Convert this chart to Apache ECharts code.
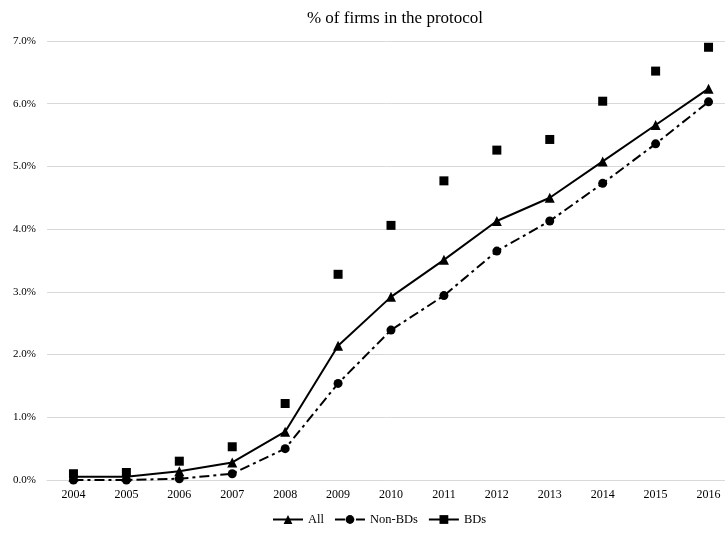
<!DOCTYPE html>
<html>
<head>
<meta charset="utf-8">
<script src="https://cdn.jsdelivr.net/npm/echarts@6/dist/echarts.min.js"></script>
<style>
  html, body { margin: 0; padding: 0; background: #fff; }
  #chart { width: 725px; height: 533px; }
</style>
</head>
<body>
<div id="chart"></div>
<script>
// years on the x axis
var years = ['2004', '2005', '2006', '2007', '2008', '2009', '2010',
             '2011', '2012', '2013', '2014', '2015', '2016'];
// % of firms in the protocol
var allFirms = [0.05, 0.05, 0.14, 0.28, 0.77, 2.14, 2.92, 3.51, 4.13, 4.50, 5.08, 5.66, 6.24];
var nonBDs   = [0.00, 0.00, 0.02, 0.10, 0.50, 1.54, 2.39, 2.94, 3.65, 4.13, 4.73, 5.36, 6.03];
var BDs      = [0.10, 0.12, 0.30, 0.53, 1.22, 3.28, 4.06, 4.77, 5.26, 5.43, 6.04, 6.52, 6.90];

var serif = '"Liberation Serif", "Times New Roman", serif';

var myChart = echarts.init(document.getElementById('chart'));
var option = {
  animation: false,
  title: {
    text: '% of firms in the protocol',
    left: 390,
    top: 5,
    textAlign: 'center',
    textStyle: { fontFamily: serif, fontSize: 17, fontWeight: 'normal', color: '#000' }
  },
  legend: {
    bottom: 7,
    left: 272,
    padding: 0,
    itemWidth: 30,
    itemHeight: 11,
    itemGap: 10,
    textStyle: { fontFamily: serif, fontSize: 12.5, color: '#000' },
    data: [
      { name: 'All' },
      { name: 'Non-BDs' },
      { name: 'BDs', lineStyle: { opacity: 1, width: 2, color: '#000', type: 'solid' } }
    ]
  },
  // plot runs a little past the right edge, like the cropped original
  grid: { left: 47, width: 688, top: 41, bottom: 53, outerBoundsMode: 'none' },
  xAxis: {
    type: 'category',
    data: years,
    boundaryGap: true,
    axisLine: { lineStyle: { color: '#d9d9d9', width: 1 } },
    axisTick: { show: false },
    axisLabel: { fontFamily: serif, fontSize: 12, color: '#000', margin: 9 }
  },
  yAxis: {
    type: 'value',
    min: 0,
    max: 7,
    interval: 1,
    axisLine: { show: false },
    axisTick: { show: false },
    splitLine: { lineStyle: { color: '#d9d9d9', width: 1 } },
    axisLabel: {
      fontFamily: serif, fontSize: 11, color: '#000', margin: 11,
      formatter: function (v) { return v.toFixed(1) + '%'; }
    }
  },
  series: [
    {
      name: 'All',
      type: 'line',
      data: allFirms,
      symbol: 'triangle',
      symbolSize: 10,
      color: '#000',
      lineStyle: { color: '#000', width: 2 },
      itemStyle: { color: '#000' }
    },
    {
      name: 'Non-BDs',
      type: 'line',
      data: nonBDs,
      symbol: 'circle',
      symbolSize: 9,
      color: '#000',
      lineStyle: { color: '#000', width: 2, type: [10, 4, 3, 4] },
      itemStyle: { color: '#000' }
    },
    {
      name: 'BDs',
      type: 'line',
      data: BDs,
      symbol: 'rect',
      symbolSize: 9,
      color: '#000',
      lineStyle: { opacity: 0 },
      itemStyle: { color: '#000' }
    }
  ]
};
myChart.setOption(option);
</script>
</body>
</html>
